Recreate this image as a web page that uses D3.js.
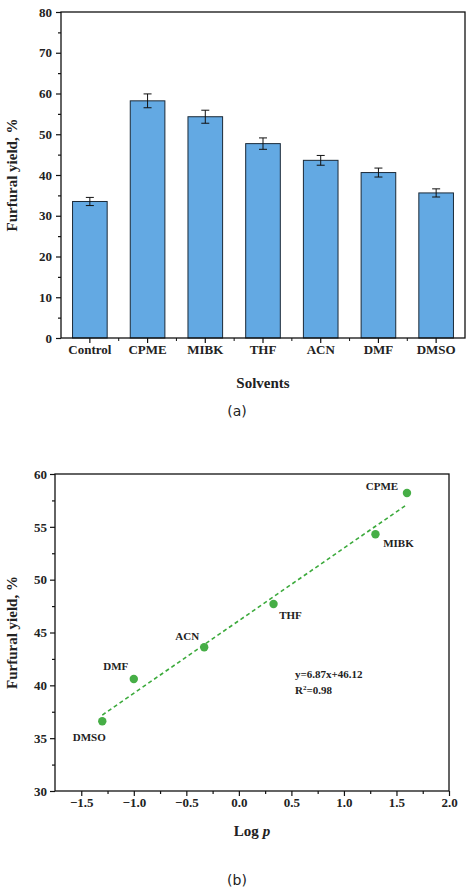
<!DOCTYPE html>
<html><head><meta charset="utf-8">
<script src="https://cdn.jsdelivr.net/npm/d3@7"></script>
<style>
body{margin:0;background:#fff;}
text{font-family:"Liberation Serif","Times New Roman",serif;font-weight:bold;fill:#222;}
</style></head><body>
<svg id="c" width="474" height="891"></svg>
<script>
// panel (a)
const solvents = ["Control","CPME","MIBK","THF","ACN","DMF","DMSO"];
const yieldVals = [33.5,58.2,54.3,47.7,43.6,40.6,35.6];
const yieldErr = [1.0,1.7,1.6,1.4,1.2,1.1,1.0];
// panel (b)
const logP = [-1.3,-1.0,-0.33,0.33,1.3,1.6];
const scatterY = [36.6,40.6,43.6,47.7,54.3,58.2];
const scatterLbl = ["DMSO","DMF","ACN","THF","MIBK","CPME"];
const fitSlope = 6.87, fitIntercept = 46.12;

const svg = d3.select("#c");

// ---- (a) bar chart
const a = {l:61,r:465,t:12,b:338};
const xa = d3.scaleBand().domain(solvents).range([a.l,a.r]).paddingInner(0.4).paddingOuter(0.2);
const ya = d3.scaleLinear().domain([0,80]).range([a.b,a.t]);
const ga = svg.append("g");
ga.selectAll("rect.bar").data(solvents).join("rect")
  .attr("x",d=>xa(d)).attr("width",xa.bandwidth())
  .attr("y",(d,i)=>ya(yieldVals[i])).attr("height",(d,i)=>a.b-ya(yieldVals[i]))
  .attr("fill","#63a9e3").attr("stroke","#1b2a38").attr("stroke-width",1);
solvents.forEach((d,i)=>{
  const cx = xa(d)+xa.bandwidth()/2, y1=ya(yieldVals[i]+yieldErr[i]), y0=ya(yieldVals[i]-yieldErr[i]);
  const g = ga.append("g").attr("stroke","#111").attr("stroke-width",1);
  g.append("line").attr("x1",cx).attr("x2",cx).attr("y1",y1).attr("y2",y0);
  g.append("line").attr("x1",cx-4).attr("x2",cx+4).attr("y1",y1).attr("y2",y1);
  g.append("line").attr("x1",cx-4).attr("x2",cx+4).attr("y1",y0).attr("y2",y0);
});
ga.append("rect").attr("x",a.l).attr("y",a.t).attr("width",a.r-a.l).attr("height",a.b-a.t)
  .attr("fill","none").attr("stroke","#111").attr("stroke-width",1.3);
const ayAx = ga.append("g").attr("transform",`translate(${a.l},0)`)
  .call(d3.axisLeft(ya).tickValues(d3.range(0,81,10)).tickSize(5).tickSizeOuter(0));
ga.append("g").attr("transform",`translate(${a.l},0)`)
  .call(d3.axisLeft(ya).tickValues(d3.range(5,80,10)).tickSize(3).tickFormat(""));
const axAx = ga.append("g").attr("transform",`translate(0,${a.b})`)
  .call(d3.axisBottom(xa).tickSize(5).tickSizeOuter(0));
// minor ticks between bars
const step = xa.step();
ga.append("g").selectAll("line").data(solvents.slice(1)).join("line")
  .attr("x1",d=>xa(d)-step*0.2).attr("x2",d=>xa(d)-step*0.2)
  .attr("y1",a.b).attr("y2",a.b+3).attr("stroke","#111");
ga.selectAll(".domain").remove();
ga.selectAll(".tick line").attr("stroke","#111").attr("stroke-width",1.2);
ayAx.selectAll("text").attr("font-size",13).attr("dx",-1);
axAx.selectAll("text").attr("font-size",13).attr("dy",8);
ga.append("text").attr("transform",`translate(17,${(a.t+a.b)/2}) rotate(-90)`).attr("text-anchor","middle").attr("font-size",15).text("Furfural yield, %");
ga.append("text").attr("x",(a.l+a.r)/2).attr("y",388).attr("text-anchor","middle").attr("font-size",15).text("Solvents");
svg.append("text").attr("x",237).attr("y",416).attr("text-anchor","middle").attr("font-size",14)
  .style("font-weight","normal").style("font-family","DejaVu Sans").text("(a)");

// ---- (b) scatter
const b = {l:55,r:449,t:474,b:791};
const xb = d3.scaleLinear().domain([-1.75,2.0]).range([b.l,b.r]);
const yb = d3.scaleLinear().domain([30,60]).range([b.b,b.t]);
const gb = svg.append("g");
gb.append("rect").attr("x",b.l).attr("y",b.t).attr("width",b.r-b.l).attr("height",b.b-b.t)
  .attr("fill","none").attr("stroke","#111").attr("stroke-width",1.3);
const byAx = gb.append("g").attr("transform",`translate(${b.l},0)`)
  .call(d3.axisLeft(yb).tickValues(d3.range(30,61,5)).tickSize(5).tickSizeOuter(0));
gb.append("g").attr("transform",`translate(${b.l},0)`)
  .call(d3.axisLeft(yb).tickValues(d3.range(32.5,60,5)).tickSize(3).tickFormat(""));
const bxAx = gb.append("g").attr("transform",`translate(0,${b.b})`)
  .call(d3.axisBottom(xb).tickValues(d3.range(-1.5,2.01,0.5)).tickSize(5).tickSizeOuter(0).tickFormat(d3.format(".1f")));
gb.append("g").attr("transform",`translate(0,${b.b})`)
  .call(d3.axisBottom(xb).tickValues(d3.range(-1.25,2,0.5)).tickSize(3).tickFormat(""));
gb.selectAll(".domain").remove();
gb.selectAll(".tick line").attr("stroke","#111").attr("stroke-width",1.2);
byAx.selectAll("text").attr("font-size",13);
bxAx.selectAll("text").attr("font-size",13).attr("dy",8);
const xs = d3.extent(logP);
gb.append("line").attr("x1",xb(xs[0])).attr("y1",yb(fitSlope*xs[0]+fitIntercept))
  .attr("x2",xb(xs[1])).attr("y2",yb(fitSlope*xs[1]+fitIntercept))
  .attr("stroke","#3caa3c").attr("stroke-width",1.6).attr("stroke-dasharray","4,3");
gb.selectAll("circle").data(logP).join("circle")
  .attr("cx",d=>xb(d)).attr("cy",(d,i)=>yb(scatterY[i])).attr("r",4.2).attr("fill","#46ae46");
const lblOff = {DMSO:[-13,20],DMF:[-18,-9],ACN:[-17,-7],THF:[17,15],MIBK:[23,13],CPME:[-25,-3]};
gb.selectAll("text.pl").data(scatterLbl).join("text")
  .attr("x",(d,i)=>xb(logP[i])+lblOff[d][0]).attr("y",(d,i)=>yb(scatterY[i])+lblOff[d][1])
  .attr("text-anchor","middle").attr("font-size",11).text(d=>d);
const eq = gb.append("text").attr("x",295).attr("y",678).attr("font-size",11);
eq.text("y=6.87x+46.12");
const r2 = gb.append("text").attr("x",295).attr("y",694).attr("font-size",11);
r2.append("tspan").text("R");
r2.append("tspan").attr("dy",-4).attr("font-size",7).text("2");
r2.append("tspan").attr("dy",4).text("=0.98");
gb.append("text").attr("transform",`translate(17,${(b.t+b.b)/2}) rotate(-90)`).attr("text-anchor","middle").attr("font-size",15).text("Furfural yield, %");
const xl = gb.append("text").attr("x",(b.l+b.r)/2).attr("y",836).attr("text-anchor","middle").attr("font-size",15);
xl.append("tspan").text("Log ");
xl.append("tspan").attr("font-style","italic").text("p");
svg.append("text").attr("x",237).attr("y",885).attr("text-anchor","middle").attr("font-size",14)
  .style("font-weight","normal").style("font-family","DejaVu Sans").text("(b)");
</script></body></html>
